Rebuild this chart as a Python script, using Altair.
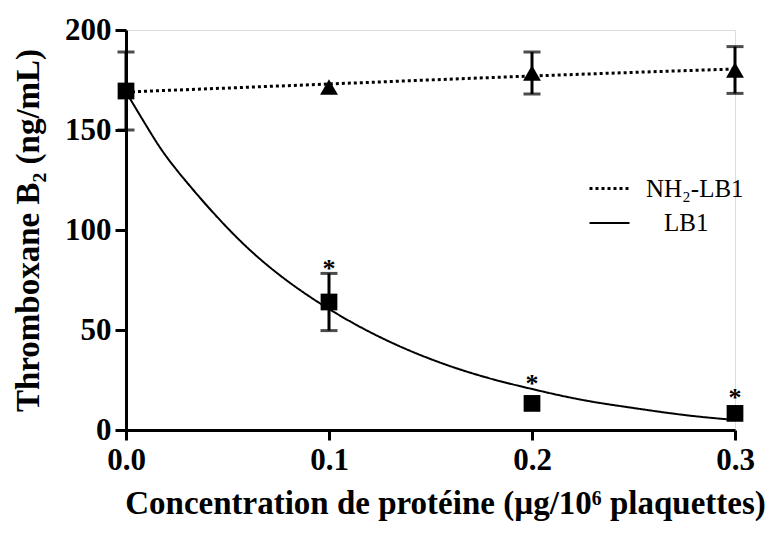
import altair as alt
import pandas as pd

# ---- data ----
x_pts = [0.0, 0.1, 0.2, 0.3]
lb1_mean = [169.5, 64.0, 13.3, 8.3]
lb1_err = [19.5, 14.3, 0.0, 0.0]

nh2_x = [0.1, 0.2, 0.3]
nh2_mean = [171.5, 178.5, 180.0]
nh2_err = [0.0, 10.5, 11.7]

# fitted curves
fit_lb1_x = [0.0, 0.0125, 0.025, 0.05, 0.075, 0.1, 0.125, 0.15, 0.175, 0.2, 0.225, 0.25, 0.275, 0.3]
fit_lb1_y = [169.0, 148.0, 130.0, 101.0, 78.0, 60.5, 46.5, 35.5, 27.0, 20.5, 15.0, 11.0, 7.5, 5.0]
fit_nh2_x = [0.0, 0.1, 0.2, 0.3]
fit_nh2_y = [169.0, 173.0, 177.0, 180.5]

star_x = [0.1, 0.2, 0.3]
star_y = [83.5, 26.0, 19.0]

series_names = ["NH\u2082-LB1", "\u2800LB1"]

FONT = "Liberation Serif"

# ---- tables ----
fit_df = pd.concat([
    pd.DataFrame({"x": fit_nh2_x, "y": fit_nh2_y, "s": series_names[0]}),
    pd.DataFrame({"x": fit_lb1_x, "y": fit_lb1_y, "s": series_names[1]}),
])
lb1_df = pd.DataFrame({"x": x_pts, "m": lb1_mean, "e": lb1_err})
lb1_df["lo"] = lb1_df["m"] - lb1_df["e"]
lb1_df["hi"] = lb1_df["m"] + lb1_df["e"]
nh2_df = pd.DataFrame({"x": nh2_x, "m": nh2_mean, "e": nh2_err})
nh2_df["lo"] = nh2_df["m"] - nh2_df["e"]
nh2_df["hi"] = nh2_df["m"] + nh2_df["e"]
err_df = pd.concat([lb1_df[lb1_df.e > 0], nh2_df[nh2_df.e > 0]])
cap_df = pd.concat([
    pd.DataFrame({"x": err_df["x"], "y": err_df["lo"]}),
    pd.DataFrame({"x": err_df["x"], "y": err_df["hi"]}),
])
star_df = pd.DataFrame({"x": star_x, "y": star_y, "t": "*"})

xs = alt.Scale(domain=[0, 0.3], nice=False, zero=False)
ys = alt.Scale(domain=[0, 200], nice=False)

x_axis = alt.Axis(
    values=[0.0, 0.1, 0.2, 0.3], format=".1f", title="Concentration de prot\u00e9ine (\u00b5g/10\u2076 plaquettes)",
    grid=False, domainColor="black", domainWidth=3, tickColor="black", tickWidth=3, tickSize=10,
    labelFont=FONT, labelFontWeight="bold", labelFontSize=31, labelColor="black", labelPadding=5,
    titleFont=FONT, titleFontWeight="bold", titleFontSize=33, titleColor="black",
    titleX=319, titleY=73, titleAnchor="middle", titleAlign="center", titleBaseline="middle",
    labelFlush=False,
)
y_axis = alt.Axis(
    values=[0, 50, 100, 150, 200], title="Thromboxane B\u2082 (ng/mL)",
    grid=False, domainColor="black", domainWidth=3, tickColor="black", tickWidth=3, tickSize=11,
    labelFont=FONT, labelFontWeight="bold", labelFontSize=31, labelColor="black", labelPadding=4,
    titleFont=FONT, titleFontWeight="bold", titleFontSize=33, titleColor="black",
    titleX=-98, titleY=200, titleAngle=-90, titleAlign="center", titleBaseline="middle",
    labelFlush=False,
)

base_x = alt.X("x:Q", scale=xs, axis=x_axis)
base_y = alt.Y("y:Q", scale=ys, axis=y_axis)

lines = alt.Chart(fit_df).mark_line(color="black", interpolate="natural", clip=True).encode(
    x=base_x, y=base_y,
    strokeDash=alt.StrokeDash(
        "s:N",
        scale=alt.Scale(domain=series_names, range=[[3, 3], [1, 0]]),
        legend=alt.Legend(
            title=None, orient="none", legendX=462, legendY=137,
            symbolType="stroke", symbolSize=1600, symbolStrokeColor="black", symbolStrokeWidth=1.5,
            labelFont=FONT, labelFontSize=25, labelColor="black", labelOffset=15, rowPadding=0,
        ),
    ),
    strokeWidth=alt.StrokeWidth("s:N", scale=alt.Scale(domain=series_names, range=[3, 2]), legend=None),
    detail="s:N",
)

rules = alt.Chart(err_df).mark_rule(color="black", strokeWidth=3).encode(
    x=alt.X("x:Q", scale=xs), y=alt.Y("lo:Q", scale=ys), y2="hi:Q"
)
caps = alt.Chart(cap_df).mark_tick(color="black", thickness=3, size=17, orient="horizontal").encode(
    x=alt.X("x:Q", scale=xs), y=alt.Y("y:Q", scale=ys)
)
squares = alt.Chart(lb1_df).mark_point(shape="square", filled=True, color="black", size=280, opacity=1).encode(
    x=alt.X("x:Q", scale=xs), y=alt.Y("m:Q", scale=ys)
)
tris = alt.Chart(nh2_df).mark_point(shape="triangle-up", filled=True, color="black", size=320, opacity=1).encode(
    x=alt.X("x:Q", scale=xs), y=alt.Y("m:Q", scale=ys)
)
stars = alt.Chart(star_df).mark_text(font=FONT, fontSize=26, fontWeight="bold", color="black", baseline="middle", dy=6).encode(
    x=alt.X("x:Q", scale=xs), y=alt.Y("y:Q", scale=ys), text="t:N"
)

chart = alt.layer(lines, rules, caps, squares, tris, stars).properties(
    width=609, height=400,
    autosize=alt.AutoSizeParams(type="none"),
    padding={"left": 126, "top": 30, "right": 45, "bottom": 106},
).configure_view(stroke=None).configure(background="white")

chart.save("out.html", embed_options={"renderer": "svg", "actions": False})
